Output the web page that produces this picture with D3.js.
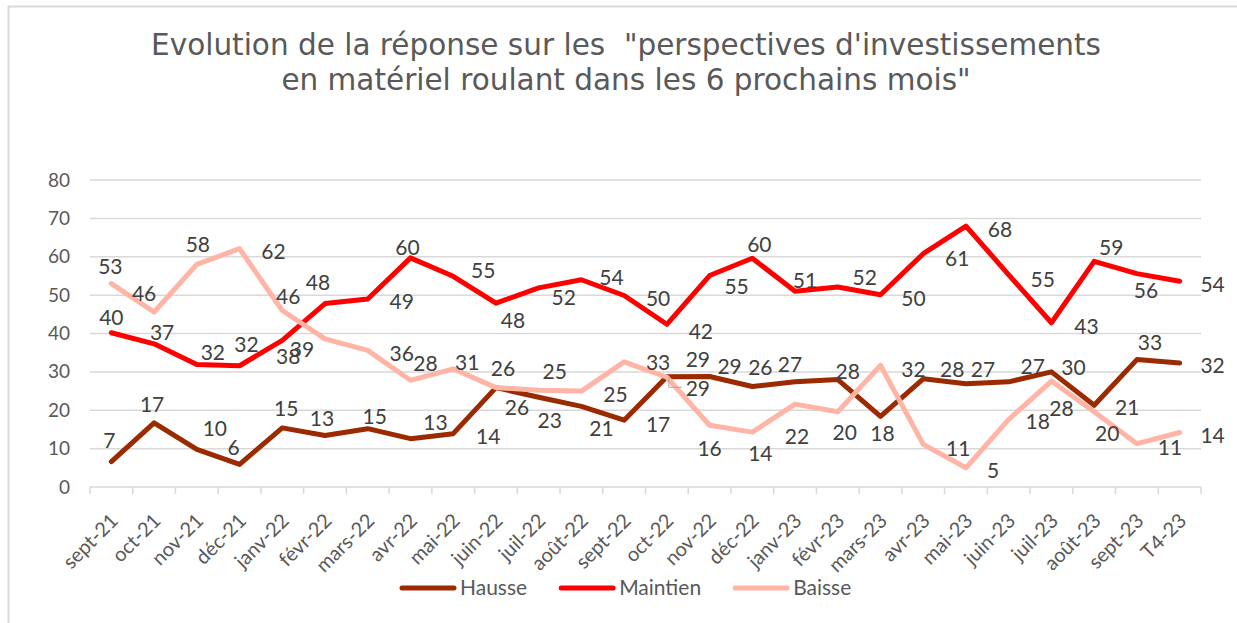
<!DOCTYPE html>
<html>
<head>
<meta charset="utf-8">
<script src="https://cdn.jsdelivr.net/npm/d3@7"></script>
<style>
  body { margin: 0; background: #fff; }
  text { font-family: Lato, "Open Sans", sans-serif; }
</style>
</head>
<body>
<div class="root"></div>
<script>

// ---- data ----
var months = ['sept-21', 'oct-21', 'nov-21', 'déc-21', 'janv-22', 'févr-22', 'mars-22', 'avr-22',
              'mai-22', 'juin-22', 'juil-22', 'août-22', 'sept-22', 'oct-22', 'nov-22', 'déc-22',
              'janv-23', 'févr-23', 'mars-23', 'avr-23', 'mai-23', 'juin-23', 'juil-23', 'août-23',
              'sept-23', 'T4-23'];

var hausse   = [6.6, 16.7, 9.8, 5.9, 15.4, 13.4, 15.2, 12.6, 13.9, 25.9, 23.4, 21.0, 17.4,
                28.7, 28.8, 26.2, 27.4, 28.0, 18.4, 28.2, 26.9, 27.4, 30.0, 21.3, 33.2, 32.3];
var maintien = [40.2, 37.3, 31.9, 31.6, 38.2, 47.8, 49.0, 59.7, 54.9, 47.9, 51.9, 54.0, 49.9,
                42.4, 55.1, 59.6, 51.0, 52.1, 50.1, 60.8, 68.0, 55.3, 42.8, 58.8, 55.6, 53.6];
var baisse   = [53.0, 45.6, 58.0, 62.1, 46.0, 38.6, 35.6, 27.8, 30.8, 25.9, 25.2, 25.0, 32.6,
                28.6, 16.1, 14.3, 21.6, 19.6, 31.7, 11.1, 5.0, 17.6, 27.6, 19.6, 11.3, 14.2];

var seriesNames = ['Hausse', 'Maintien', 'Baisse'];
var yTicks = [0, 10, 20, 30, 40, 50, 60, 70, 80];

var titleLines = ['Evolution de la réponse sur les  "perspectives d\'investissements',
                  'en matériel roulant dans les 6 prochains mois"'];

// where each data label sits relative to its point (as in the original, hand placed)
var hausseLabelPos = [[-2,-22],[-2,-19],[18,-22],[-6,-18],[4,-20],[-3,-18],[7,-13],[25,-17],[35,2],
                      [21,19],[11,22],[20,21],[34,3],[31,-18],[20,-11],[8,-20],[-5,-18],[10,-9],
                      [2,16],[29,-10],[17,-15],[24,-16],[22,-5],[33,1],[13,-18],[33,1]];
var maintienLabelPos = [[0,-16],[8,-12],[16,-13],[7,-22],[6,15],[-7,-22],[34,2],[-3,-11],[30,-7],
                        [17,16],[25,9],[30,-3],[34,2],[34,6],[27,10],[7,-15],[10,-12],[27,-11],
                        [33,3],[34,4],[34,2],[34,4],[35,3],[17,-15],[9,16],[33,2]];
var baisseLabelPos = [[-1,-18],[-10,-20],[1,-21],[34,2],[6,-15],[-23,10],[34,2],[15,-18],[14,-7],
                      [7,-20],[16,-20],[34,2],[34,0],[31,10,'leader'],[0,22],[8,20],[2,31],[7,20],
                      [33,3],[35,3],[27,2],[29,1],[10,26],[13,21],[33,3],[33,2]];

var colors = ['#9b2a00', '#ff0000', '#ffb4a6'];

// ---- layout ----
var canvasWidth = 1237,
    canvasHeight = 623;

var plotLeft = 90, plotRight = 1201,
    plotTop = 180, plotBottom = 487;

var svg = d3.select('.root')
            .append('svg')
            .attr('width', canvasWidth)
            .attr('height', canvasHeight);

// outer frame (only top + left visible in the original crop)
svg.append('rect')
   .attr('x', 8.5).attr('y', 6.5)
   .attr('width', 1400).attr('height', 700)
   .style('fill', 'none')
   .style('stroke', '#d9d9d9')
   .style('stroke-width', 2);

// title
svg.append('g')
   .selectAll('text')
   .data(titleLines)
   .enter().append('text')
   .attr('x', 626)
   .attr('y', (d, i) => 55 + i * 35)
   .attr('text-anchor', 'middle')
   .style('font-family', '"DejaVu Sans", Verdana, sans-serif')
   .style('font-size', '29.5px')
   .style('white-space', 'pre')
   .style('fill', '#595959')
   .text(d => d);

var x = d3.scaleBand()
          .domain(months)
          .range([plotLeft, plotRight])
          .padding(0);

var y = d3.scaleLinear()
          .domain([0, 80])
          .range([plotBottom, plotTop]);

var cx = i => x(months[i]) + x.bandwidth() / 2;

// gridlines
svg.append('g')
   .selectAll('line')
   .data(yTicks.filter(d => d > 0))
   .enter().append('line')
   .attr('x1', plotLeft).attr('x2', plotRight)
   .attr('y1', d => y(d)).attr('y2', d => y(d))
   .style('stroke', '#d9d9d9')
   .style('stroke-width', 1.5);

// y axis labels
var yAxis = svg.append('g')
               .attr('transform', 'translate(' + plotLeft + ',0)')
               .call(d3.axisLeft(y).tickValues(yTicks).tickSize(0).tickPadding(20));
yAxis.select('.domain').remove();
yAxis.selectAll('text')
     .style('font-family', 'Lato, sans-serif')
     .style('font-size', '19px')
     .style('fill', '#595959');

// x axis: base line, boundary ticks, rotated labels
var xAxis = svg.append('g')
               .attr('transform', 'translate(0,' + plotBottom + ')')
               .call(d3.axisBottom(x).tickSize(0));
xAxis.select('.domain').remove();
xAxis.selectAll('text')
     .attr('x', 0).attr('y', 0).attr('dy', '0.35em')
     .attr('text-anchor', 'end')
     .attr('transform', 'translate(3,30) rotate(-45)')
     .style('font-family', 'Lato, sans-serif')
     .style('font-size', '20px')
     .style('fill', '#595959');

xAxis.append('line')
     .attr('x1', plotLeft).attr('x2', plotRight)
     .style('stroke', '#d9d9d9')
     .style('stroke-width', 1.5);

xAxis.append('g')
     .selectAll('line')
     .data(d3.range(months.length + 1))
     .enter().append('line')
     .attr('x1', i => plotLeft + i * x.step())
     .attr('x2', i => plotLeft + i * x.step())
     .attr('y1', 0).attr('y2', 7)
     .style('stroke', '#d9d9d9')
     .style('stroke-width', 1.5);

// lines
var allSeries = [hausse, maintien, baisse];
var allLabelPos = [hausseLabelPos, maintienLabelPos, baisseLabelPos];

var line = d3.line()
             .x((d, i) => cx(i))
             .y(d => y(d));

allSeries.forEach(function (each, index) {
  svg.append('path')
     .datum(each)
     .attr('class', 'line')
     .attr('d', line)
     .style('stroke', colors[index])
     .style('stroke-width', '5px')
     .style('stroke-linejoin', 'round')
     .style('stroke-linecap', 'round')
     .style('fill', 'none');
});

// data labels
var fmt = d3.format('.0f');

allSeries.forEach(function (each, index) {
  var pos = allLabelPos[index];
  var g = svg.append('g');

  // leader lines for labels that were dragged away
  g.selectAll('path')
   .data(each.map((d, i) => ({v: d, i: i})).filter(d => pos[d.i][2] === 'leader'))
   .enter().append('path')
   .attr('d', d => {
     var px = cx(d.i), py = y(d.v);
     var lx = px + pos[d.i][0], ly = py + pos[d.i][1];
     return 'M' + (px + 2) + ',' + py + 'V' + ly + 'H' + (lx - 16);
   })
   .style('stroke', '#a6a6a6')
   .style('stroke-width', 1)
   .style('fill', 'none');

  g.selectAll('text')
   .data(each)
   .enter().append('text')
   .attr('x', (d, i) => cx(i) + pos[i][0])
   .attr('y', (d, i) => y(d) + pos[i][1])
   .attr('text-anchor', 'middle')
   .attr('dominant-baseline', 'central')
   .style('font-size', '21px')
   .style('fill', '#404040')
   .text(d => fmt(d));
});

// legend
var legend = svg.append('g')
                .attr('transform', 'translate(400,588)');
var lx = 0;
seriesNames.forEach(function (name, index) {
  var item = legend.append('g').attr('transform', 'translate(' + lx + ',0)');
  item.append('line')
      .attr('x1', 2).attr('x2', 54)
      .style('stroke', colors[index])
      .style('stroke-width', '5px')
      .style('stroke-linecap', 'round');
  var t = item.append('text')
      .attr('x', 60)
      .attr('dy', '0.35em')
      .style('font-size', '21px')
      .style('fill', '#595959')
      .text(name);
  lx += 60 + t.node().getComputedTextLength() + 32;
});

</script>
</body>
</html>
